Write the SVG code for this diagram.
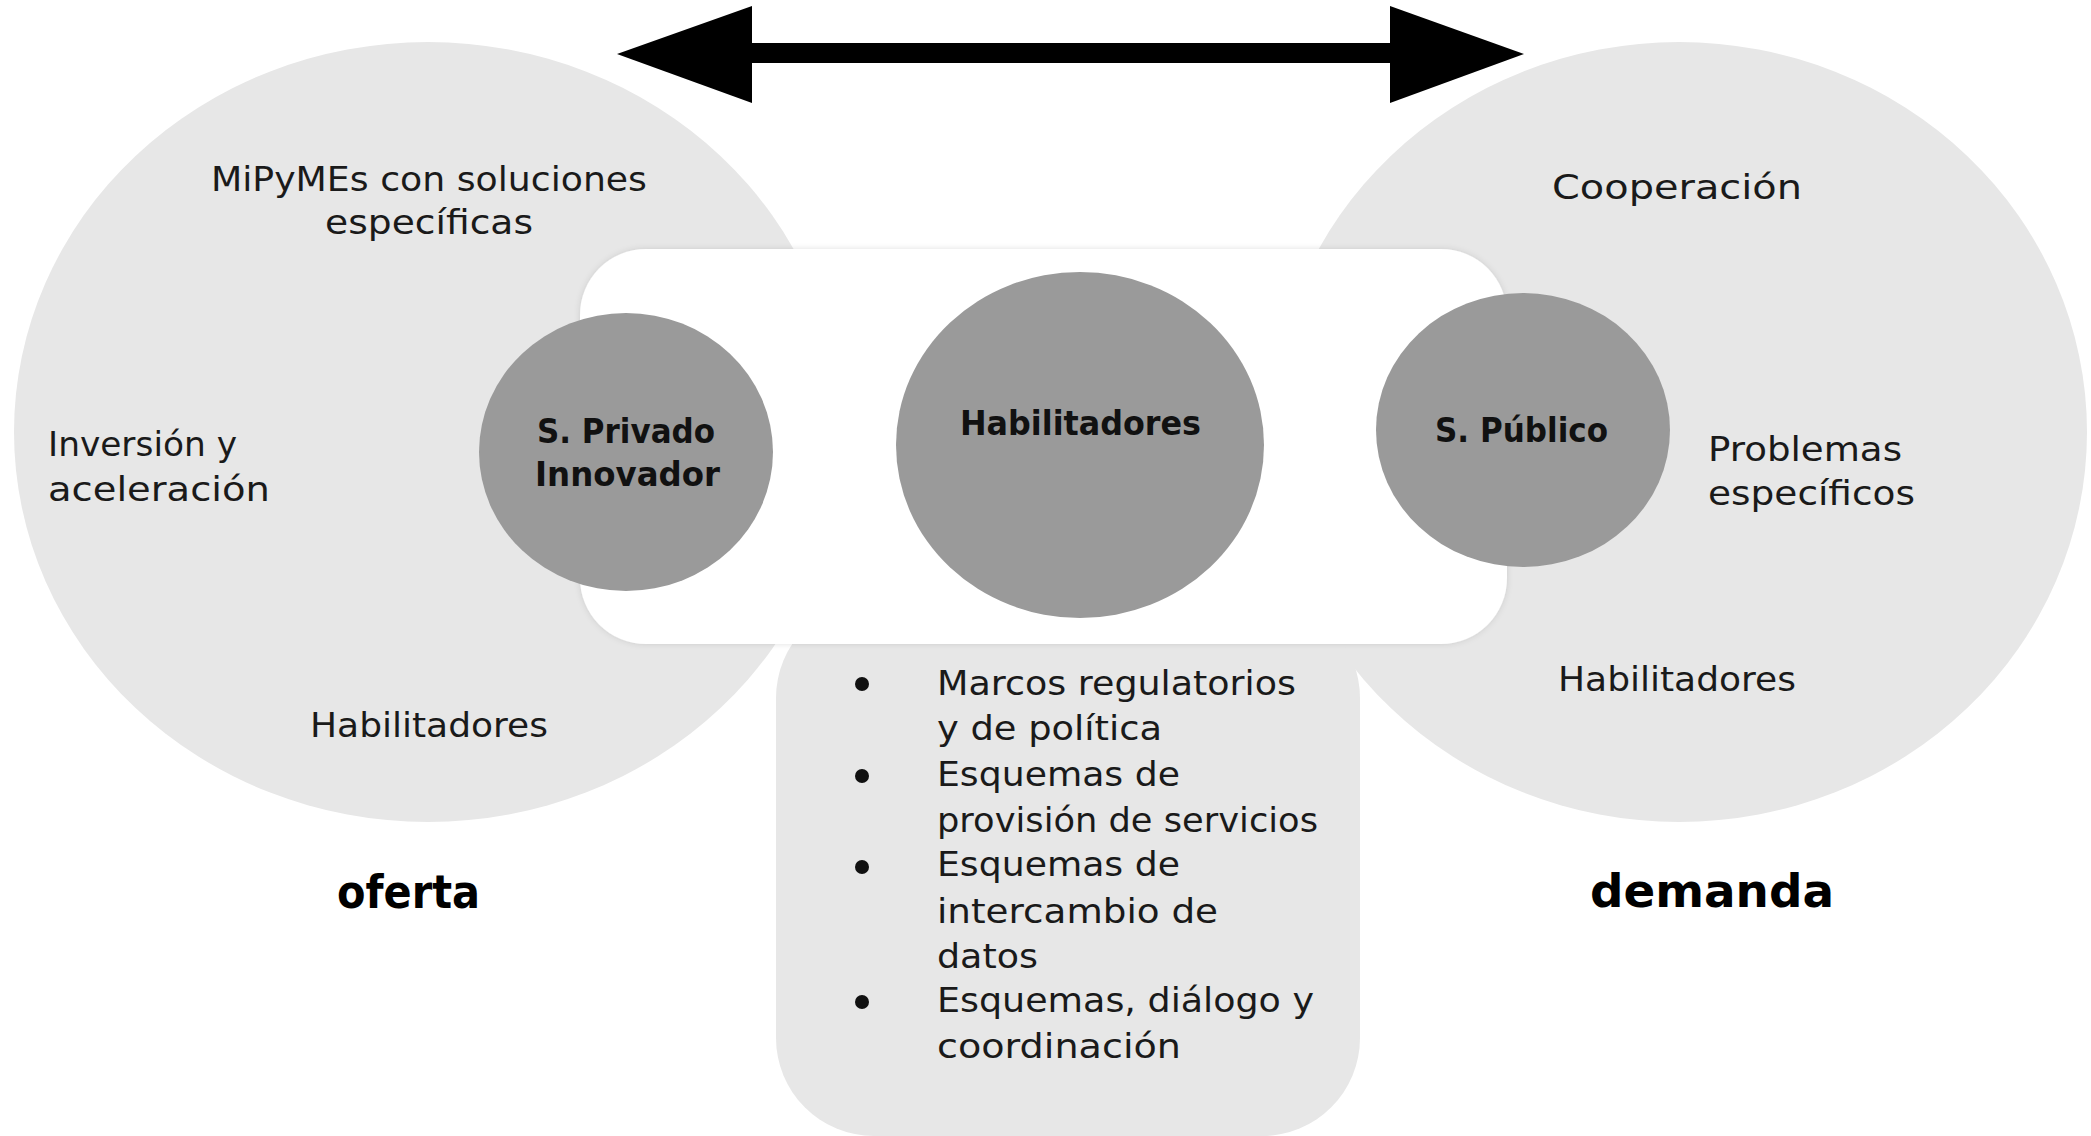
<svg xmlns="http://www.w3.org/2000/svg" width="2091" height="1136" viewBox="0 0 2091 1136">
  <style>
    .big { fill: #e7e7e7; }
    .dark { fill: #9a9a9a; }
    .txt { font-family: "DejaVu Sans", "Liberation Sans", sans-serif; font-size: 34px; fill: #1a1a1a; }
    .btxt { font-family: "DejaVu Sans", "Liberation Sans", sans-serif; font-size: 33px; font-weight: bold; fill: #111111; }
    .label { font-family: "DejaVu Sans", "Liberation Sans", sans-serif; font-size: 46px; font-weight: bold; fill: #000000; }
    .bullet { fill: #111111; }
  </style>
  <defs>
    <filter id="soft" x="-5%" y="-10%" width="110%" height="120%">
      <feDropShadow dx="0" dy="0" stdDeviation="3" flood-color="#000000" flood-opacity="0.12"/>
    </filter>
  </defs>
  <rect width="2091" height="1136" fill="#ffffff"/>

  <g id="oferta">
    <ellipse class="big" cx="428" cy="432" rx="414" ry="390"/>
    <text class="txt" x="211" y="191" textLength="436" lengthAdjust="spacingAndGlyphs">MiPyMEs con soluciones</text>
    <text class="txt" x="325" y="234" textLength="208" lengthAdjust="spacingAndGlyphs">específicas</text>
    <text class="txt" x="48" y="456" textLength="189" lengthAdjust="spacingAndGlyphs">Inversión y</text>
    <text class="txt" x="48" y="501" textLength="222" lengthAdjust="spacingAndGlyphs">aceleración</text>
    <text class="txt" x="310" y="737" textLength="238" lengthAdjust="spacingAndGlyphs">Habilitadores</text>
    <text class="label" x="337" y="908" textLength="143" lengthAdjust="spacingAndGlyphs">oferta</text>
  </g>

  <g id="demanda">
    <ellipse class="big" cx="1679" cy="432" rx="408" ry="390"/>
    <text class="txt" x="1552" y="199" textLength="250" lengthAdjust="spacingAndGlyphs">Cooperación</text>
    <text class="txt" x="1708" y="461" textLength="194" lengthAdjust="spacingAndGlyphs">Problemas</text>
    <text class="txt" x="1708" y="505" textLength="207" lengthAdjust="spacingAndGlyphs">específicos</text>
    <text class="txt" x="1558" y="691" textLength="238" lengthAdjust="spacingAndGlyphs">Habilitadores</text>
    <text class="label" x="1590" y="907" textLength="244" lengthAdjust="spacingAndGlyphs">demanda</text>
  </g>

  <g id="habilitadores-panel">
    <rect class="big" x="776" y="600" width="584" height="536" rx="98" ry="98"/>
    <circle class="bullet" cx="862" cy="684" r="7"/>
    <circle class="bullet" cx="862" cy="776" r="7"/>
    <circle class="bullet" cx="862" cy="867" r="7"/>
    <circle class="bullet" cx="862" cy="1002" r="7"/>
    <text class="txt" x="937" y="695" textLength="359" lengthAdjust="spacingAndGlyphs">Marcos regulatorios</text>
    <text class="txt" x="937" y="740" textLength="225" lengthAdjust="spacingAndGlyphs">y de política</text>
    <text class="txt" x="937" y="786" textLength="243" lengthAdjust="spacingAndGlyphs">Esquemas de</text>
    <text class="txt" x="937" y="832" textLength="381" lengthAdjust="spacingAndGlyphs">provisión de servicios</text>
    <text class="txt" x="937" y="876" textLength="243" lengthAdjust="spacingAndGlyphs">Esquemas de</text>
    <text class="txt" x="937" y="923" textLength="281" lengthAdjust="spacingAndGlyphs">intercambio de</text>
    <text class="txt" x="937" y="968" textLength="101" lengthAdjust="spacingAndGlyphs">datos</text>
    <text class="txt" x="937" y="1012" textLength="377" lengthAdjust="spacingAndGlyphs">Esquemas, diálogo y</text>
    <text class="txt" x="937" y="1058" textLength="244" lengthAdjust="spacingAndGlyphs">coordinación</text>
  </g>

  <g id="plataforma">
    <rect x="580" y="249" width="927" height="395" rx="66" ry="66" fill="#ffffff" filter="url(#soft)"/>
  </g>

  <g id="s-privado">
    <ellipse class="dark" cx="626" cy="452" rx="147" ry="139"/>
    <text class="btxt" x="537" y="443" textLength="178" lengthAdjust="spacingAndGlyphs">S. Privado</text>
    <text class="btxt" x="535" y="486" textLength="185" lengthAdjust="spacingAndGlyphs">Innovador</text>
  </g>

  <g id="habilitadores">
    <ellipse class="dark" cx="1080" cy="445" rx="184" ry="173"/>
    <text class="btxt" x="960" y="435" textLength="241" lengthAdjust="spacingAndGlyphs">Habilitadores</text>
  </g>

  <g id="s-publico">
    <ellipse class="dark" cx="1523" cy="430" rx="147" ry="137"/>
    <text class="btxt" x="1435" y="442" textLength="173" lengthAdjust="spacingAndGlyphs">S. Público</text>
  </g>

  <g id="connectors">
    <rect x="740" y="43" width="662" height="20" fill="#000000"/>
    <polygon points="617,54 752,6 752,103" fill="#000000"/>
    <polygon points="1524,54 1390,6 1390,103" fill="#000000"/>
  </g>
</svg>
